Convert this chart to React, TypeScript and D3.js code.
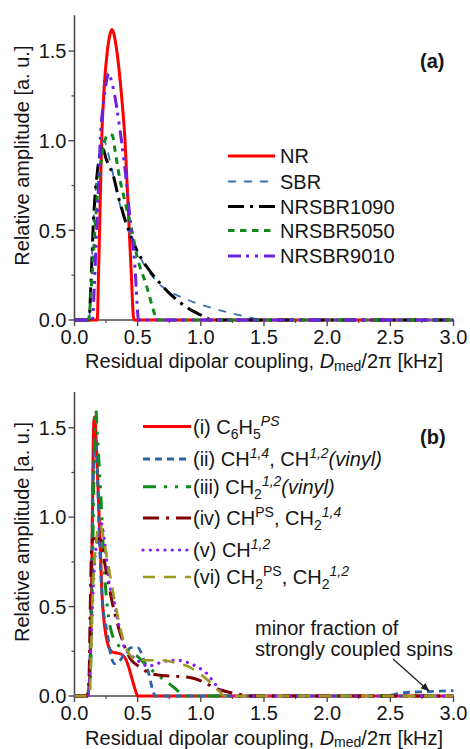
import React from 'react';
import * as d3 from 'd3';

type Pt = [number, number];

// ---------- data ----------
const xTicks = [0, 0.5, 1, 1.5, 2, 2.5, 3];
const xMinor = [0.25, 0.75, 1.25, 1.75, 2.25, 2.75];
const yTicks = [0, 0.5, 1, 1.5];
const yMinor = [0.25, 0.75, 1.25];

const NR: Pt[] = [[0,0],[0.18,0],[0.19,0.25],[0.2,0.55],[0.215,1.0],[0.235,1.3],[0.26,1.5],[0.28,1.59],[0.295,1.62],[0.31,1.6],[0.335,1.5],[0.37,1.27],[0.4,1.0],[0.43,0.55],[0.45,0.25],[0.465,0.03],[0.47,0],[3,0]];
const SBR: Pt[] = [[0,0],[0.115,0],[0.13,0.2],[0.15,0.55],[0.18,0.83],[0.21,0.97],[0.235,1.0],[0.26,0.95],[0.28,0.89],[0.3,0.83],[0.35,0.67],[0.4,0.55],[0.45,0.46],[0.5,0.38],[0.55,0.31],[0.6,0.26],[0.67,0.2],[0.75,0.16],[0.87,0.12],[1.0,0.085],[1.1,0.065],[1.2,0.045],[1.3,0.028],[1.4,0.012],[1.48,0],[3,0]];
const NRSBR1090: Pt[] = [[0,0],[0.115,0],[0.13,0.2],[0.15,0.55],[0.18,0.82],[0.205,0.93],[0.225,0.955],[0.25,0.9],[0.28,0.85],[0.3,0.82],[0.35,0.68],[0.4,0.56],[0.45,0.46],[0.5,0.38],[0.55,0.32],[0.6,0.27],[0.67,0.21],[0.75,0.15],[0.87,0.08],[0.95,0.045],[1.0,0.028],[1.05,0.01],[1.08,0],[3,0]];
const NRSBR5050: Pt[] = [[0,0],[0.11,0],[0.12,0.05],[0.15,0.37],[0.18,0.69],[0.22,0.93],[0.25,1.02],[0.27,1.035],[0.3,1.03],[0.32,0.95],[0.35,0.82],[0.41,0.63],[0.454,0.5],[0.49,0.37],[0.57,0.19],[0.64,0.02],[0.65,0],[3,0]];
const NRSBR9010: Pt[] = [[0,0],[0.14,0],[0.145,0.02],[0.157,0.19],[0.175,0.5],[0.19,0.74],[0.205,1.02],[0.23,1.21],[0.255,1.34],[0.27,1.376],[0.29,1.34],[0.32,1.245],[0.36,1.06],[0.4,0.84],[0.44,0.56],[0.48,0.28],[0.5,0.04],[0.505,0],[3,0]];

const C6H5: Pt[] = [[0,0],[0.1,0],[0.12,0.1],[0.13,0.35],[0.14,0.9],[0.148,1.4],[0.156,1.56],[0.165,1.52],[0.18,1.28],[0.2,0.91],[0.22,0.54],[0.24,0.38],[0.26,0.3],[0.28,0.26],[0.3,0.245],[0.34,0.24],[0.38,0.23],[0.41,0.2],[0.43,0.16],[0.45,0.11],[0.47,0.06],[0.49,0.015],[0.5,0],[3,0]];
const CH14: Pt[] = [[0,0],[0.1,0],[0.115,0.05],[0.13,0.5],[0.145,1.1],[0.158,1.4],[0.167,1.44],[0.18,1.28],[0.195,0.91],[0.22,0.54],[0.26,0.35],[0.29,0.22],[0.32,0.18],[0.35,0.19],[0.4,0.24],[0.45,0.27],[0.5,0.27],[0.55,0.2],[0.59,0.12],[0.62,0.03],[0.64,0],[2.45,0],[2.6,0.018],[2.8,0.025],[3.0,0.03]];
const CH2vinyl: Pt[] = [[0,0],[0.11,0],[0.125,0.1],[0.14,0.6],[0.155,1.3],[0.169,1.6],[0.18,1.47],[0.21,1.1],[0.235,0.72],[0.27,0.44],[0.3,0.34],[0.33,0.3],[0.37,0.27],[0.41,0.26],[0.45,0.24],[0.5,0.22],[0.57,0.17],[0.62,0.14],[0.67,0.11],[0.74,0.075],[0.8,0.04],[0.85,0.01],[0.88,0],[3,0]];
const CHPS: Pt[] = [[0,0],[0.1,0],[0.115,0.1],[0.125,0.5],[0.135,0.82],[0.145,0.88],[0.18,0.88],[0.2,0.88],[0.25,0.7],[0.3,0.52],[0.35,0.38],[0.4,0.27],[0.45,0.2],[0.5,0.17],[0.55,0.145],[0.6,0.125],[0.7,0.115],[0.8,0.11],[0.9,0.105],[1.0,0.085],[1.07,0.06],[1.13,0.04],[1.2,0.025],[1.3,0.01],[1.38,0],[3,0]];
const CH12: Pt[] = [[0,0],[0.11,0],[0.13,0.3],[0.16,0.75],[0.19,0.9],[0.21,0.97],[0.24,0.85],[0.275,0.63],[0.31,0.54],[0.34,0.43],[0.37,0.34],[0.39,0.28],[0.46,0.22],[0.54,0.18],[0.58,0.165],[0.65,0.18],[0.73,0.196],[0.8,0.2],[0.885,0.19],[0.965,0.165],[1.045,0.127],[1.11,0.07],[1.16,0.024],[1.19,0],[3,0]];
const CH2PS: Pt[] = [[0,0],[0.12,0],[0.14,0.5],[0.17,0.85],[0.2,0.96],[0.25,0.8],[0.3,0.6],[0.35,0.42],[0.4,0.28],[0.45,0.22],[0.5,0.2],[0.6,0.2],[0.7,0.2],[0.8,0.185],[0.9,0.165],[1.0,0.12],[1.07,0.08],[1.14,0.03],[1.19,0],[3,0]];

const topLabels = ['NR', 'SBR', 'NRSBR1090', 'NRSBR5050', 'NRSBR9010'];

type Part = { t: string; sub?: boolean; sup?: boolean; it?: boolean };
const bottomLabels: Part[][] = [
  [{ t: '(i) C' }, { t: '6', sub: true }, { t: 'H' }, { t: '5', sub: true }, { t: 'PS', sup: true, it: true }],
  [{ t: '(ii) CH' }, { t: '1,4', sup: true, it: true }, { t: ', CH' }, { t: '1,2', sup: true, it: true }, { t: '(vinyl)', it: true }],
  [{ t: '(iii) CH' }, { t: '2', sub: true }, { t: '1,2', sup: true, it: true }, { t: '(vinyl)', it: true }],
  [{ t: '(iv) CH' }, { t: 'PS', sup: true }, { t: ', CH' }, { t: '2', sub: true }, { t: '1,4', sup: true, it: true }],
  [{ t: '(v) CH' }, { t: '1,2', sup: true, it: true }],
  [{ t: '(vi) CH' }, { t: '2', sub: true }, { t: 'PS', sup: true }, { t: ', CH' }, { t: '2', sub: true }, { t: '1,2', sup: true, it: true }],
];

// ---------- styles ----------
const topSeries = [
  { data: NR, color: '#ff0000', width: 3, dash: '' },
  { data: SBR, color: '#3a6fae', width: 1.8, dash: '8,8' },
  { data: NRSBR1090, color: '#000000', width: 3, dash: '16,6,3,6' },
  { data: NRSBR5050, color: '#11881a', width: 3, dash: '6.5,5.5' },
  { data: NRSBR9010, color: '#6a22e0', width: 3, dash: '13,5,3,6,3,6' },
];
const topLegendY = [156, 181.5, 206.5, 230.5, 256];

const bottomSeries = [
  { data: C6H5, color: '#ff0000', width: 3, dash: '', cap: 'butt' },
  { data: CH14, color: '#2e64a4', width: 2.8, dash: '7,5', cap: 'butt' },
  { data: CH2vinyl, color: '#118a1a', width: 3, dash: '13,8,3,8,3,8', cap: 'butt' },
  { data: CHPS, color: '#800000', width: 3, dash: '16,7,3,7', cap: 'butt' },
  { data: CH12, color: '#8a1cf7', width: 3.2, dash: '0.1,7.2', cap: 'round' },
  { data: CH2PS, color: '#9a9a1e', width: 2.6, dash: '12,9', cap: 'butt' },
];
const bottomLegendY = [426.5, 459, 486.7, 518, 550, 577];

const FONT = '"Liberation Sans", Arial, sans-serif';
const AX = '#4a4a4a';
const TXT = '#151515';

const xScale = d3.scaleLinear().domain([0, 3]).range([74.5, 453.5]);

function RichText({ x, y, parts }: { x: number; y: number; parts: Part[] }) {
  let cur = 0;
  return (
    <text x={x} y={y} fontSize={20} fill={TXT} fontFamily={FONT}>
      {parts.map((p, i) => {
        const target = p.sub ? 5 : p.sup ? -8 : 0;
        const dy = target - cur;
        cur = target;
        return (
          <tspan key={i} dy={dy} fontSize={p.sub || p.sup ? 14 : 20} fontStyle={p.it ? 'italic' : 'normal'}>
            {p.t}
          </tspan>
        );
      })}
    </text>
  );
}

function Panel({ y0, y1, titleDy, series, children }: { y0: number; y1: number; titleDy: number; series: any[]; children?: React.ReactNode }) {
  const yScale = d3.scaleLinear().domain([0, 1.7]).range([y0, y1]);
  const line = d3
    .line<Pt>()
    .x((d) => xScale(d[0]))
    .y((d) => yScale(d[1]))
    .curve(d3.curveMonotoneX);
  const xl = xScale(0);
  const fmt = d3.format('.1f');
  return (
    <g>
      {/* axes */}
      <line x1={xl} x2={xl} y1={yScale(1.7)} y2={y0} stroke={AX} strokeWidth={1.6} />
      <line x1={xl} x2={xScale(3)} y1={y0} y2={y0} stroke={AX} strokeWidth={1.6} />
      {yTicks.map((t) => (
        <g key={'y' + t}>
          <line x1={xl - 6} x2={xl} y1={yScale(t)} y2={yScale(t)} stroke={AX} strokeWidth={1.4} />
          <text x={xl - 8} y={yScale(t)} dy="0.36em" textAnchor="end" fontSize={20} fill={TXT} fontFamily={FONT}>
            {fmt(t)}
          </text>
        </g>
      ))}
      {yMinor.map((t) => (
        <line key={'ym' + t} x1={xl - 3} x2={xl} y1={yScale(t)} y2={yScale(t)} stroke={AX} strokeWidth={1.2} />
      ))}
      {xTicks.map((t) => (
        <g key={'x' + t}>
          <line x1={xScale(t)} x2={xScale(t)} y1={y0} y2={y0 + 6} stroke={AX} strokeWidth={1.4} />
          <text x={xScale(t)} y={y0 + 24} textAnchor="middle" fontSize={20} fill={TXT} fontFamily={FONT}>
            {fmt(t)}
          </text>
        </g>
      ))}
      {xMinor.map((t) => (
        <line key={'xm' + t} x1={xScale(t)} x2={xScale(t)} y1={y0} y2={y0 + 3} stroke={AX} strokeWidth={1.2} />
      ))}
      {/* curves */}
      {series.map((s, i) => (
        <path
          key={i}
          d={line(s.data) || ''}
          fill="none"
          stroke={s.color}
          strokeWidth={s.width}
          strokeDasharray={s.dash || undefined}
          strokeLinecap={s.cap || 'butt'}
          strokeLinejoin="round"
        />
      ))}
      {/* axis titles */}
      <text x={(xScale(0) + xScale(3)) / 2} y={y0 + titleDy} textAnchor="middle" fontSize={20} fill={TXT} fontFamily={FONT}>
        Residual dipolar coupling, <tspan fontStyle="italic">D</tspan>
        <tspan fontSize={14} dy={2.5}>med</tspan>
        <tspan dy={-2.5}>/2π [kHz]</tspan>
      </text>
      <text
        transform={`translate(29, ${(y0 + yScale(1.7)) / 2 - 12}) rotate(-90)`}
        textAnchor="middle"
        fontSize={20}
        fill={TXT}
        fontFamily={FONT}
      >
        Relative amplitude [a. u.]
      </text>
      {children}
    </g>
  );
}

export default function App() {
  return (
    <svg width={470} height={749} viewBox="0 0 470 749" style={{ display: 'block', position: 'absolute', left: 0, top: 0, background: '#fff' }}>
      <defs>
        <marker id="arr" viewBox="0 0 10 10" refX="9" refY="5" markerWidth="9" markerHeight="9" orient="auto" markerUnits="userSpaceOnUse">
          <path d="M0,1 L10,5 L0,9 Z" fill="#222" />
        </marker>
      </defs>
      <rect x={0} y={0} width={470} height={749} fill="#fff" />
      <Panel y0={320} y1={15.2} titleDy={48} series={topSeries}>
        {topSeries.map((s, i) => (
          <g key={i}>
            <line x1={228} x2={275} y1={topLegendY[i]} y2={topLegendY[i]} stroke={s.color} strokeWidth={s.width} strokeDasharray={s.dash || undefined} />
            <text x={280} y={topLegendY[i] + 7} fontSize={20} fill={TXT} fontFamily={FONT}>
              {topLabels[i]}
            </text>
          </g>
        ))}
        <text x={420} y={68} fontSize={20} fontWeight="bold" fill={TXT} fontFamily={FONT}>(a)</text>
      </Panel>
      <Panel y0={696} y1={392} titleDy={48.5} series={bottomSeries}>
        {bottomSeries.map((s, i) => (
          <g key={i}>
            <line
              x1={143}
              x2={191}
              y1={bottomLegendY[i]}
              y2={bottomLegendY[i]}
              stroke={s.color}
              strokeWidth={s.width}
              strokeDasharray={s.dash || undefined}
              strokeLinecap={s.cap as any}
            />
            <RichText x={193} y={bottomLegendY[i] + 7} parts={bottomLabels[i]} />
          </g>
        ))}
        <text x={420} y={444} fontSize={20} fontWeight="bold" fill={TXT} fontFamily={FONT}>(b)</text>
        <text x={255} y={635} fontSize={20} fill={TXT} fontFamily={FONT}>minor fraction of</text>
        <text x={255} y={656} fontSize={20} fill={TXT} fontFamily={FONT}>strongly coupled spins</text>
        <line x1={393} y1={659} x2={429} y2={691} stroke="#222" strokeWidth={1.3} markerEnd="url(#arr)" />
      </Panel>
    </svg>
  );
}
